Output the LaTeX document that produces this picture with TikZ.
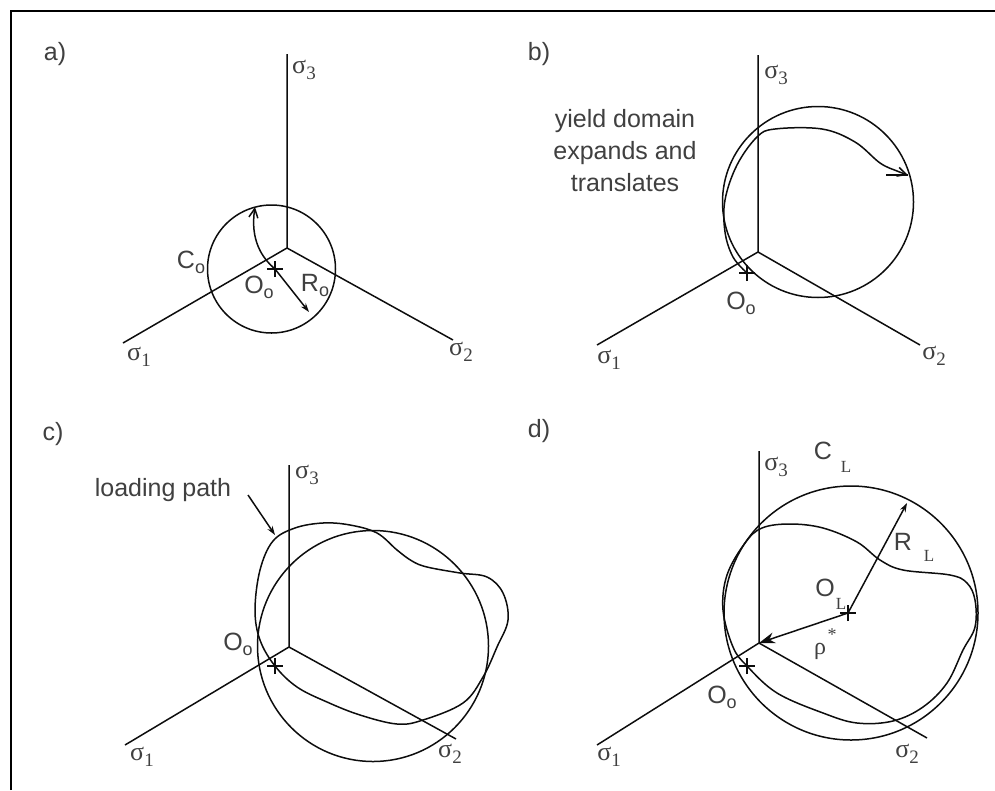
\documentclass[tikz,border=0pt]{standalone}
\usepackage{fontspec}
\setmainfont{Liberation Sans}
\newfontfamily\serifgr{Liberation Serif}
\usetikzlibrary{arrows.meta}
\definecolor{ink}{gray}{0.05}
\definecolor{lab}{gray}{0.25}
\tikzset{
  ln/.style={draw=ink,line width=1.5pt},
  txt/.style={text=lab,font=\fontsize{25}{30}\selectfont,inner sep=0pt},
  sig/.style={text=lab,font=\serifgr\fontsize{26}{28}\selectfont,inner sep=0pt},
  subL/.style={text=lab,font=\serifgr\fontsize{17}{18}\selectfont,inner sep=0pt},
  tip/.style={-{Stealth[length=9pt,width=6pt]}},
  barb/.style={-{Straight Barb[length=9pt,width=9pt]}},
}
\newcommand{\sgm}[1]{σ\raisebox{-6pt}{\fontsize{19}{20}\selectfont #1}}
\newcommand{\subo}{\raisebox{-5pt}{\fontsize{18}{18}\selectfont o}}
\newcommand{\crossat}[1]{\draw[ln] ([xshift=-8pt]#1) -- ([xshift=8pt]#1) ([yshift=-8pt]#1) -- ([yshift=8pt]#1);}
\begin{document}
\begin{tikzpicture}[x=1pt,y=-1pt]
\useasboundingbox (0,0) rectangle (995,790);
\coordinate (ftl) at (11,11); \coordinate (ftr) at (995,11);
\coordinate (fbl) at (11,790);
\draw[draw=black,line width=2pt] (fbl) -- (ftl) -- (ftr);
% panel a
\coordinate (a0) at (287,248); \coordinate (a3) at (287,54);
\coordinate (a1) at (123,343); \coordinate (a2) at (453,340);
\draw[ln] (a3) -- (a0) (a1) -- (a0) -- (a2);
\coordinate (ac) at (271.5,269);
\draw[ln] (ac) circle (64);
\coordinate (ax) at (275,269);
\crossat{ax}
\coordinate (ar) at (309,312);
\draw[ln,tip] (ax) -- (ar);
\coordinate (at) at (255,207);
\draw[ln,barb] (ax) .. controls (262,258) and (250,240) .. (at);
\node[txt] (la) at (55,54) {a)};
\node[sig] (as3) at (304,70) {\sgm{3}};
\node[sig] (as1) at (139,357) {\sgm{1}};
\node[sig] (as2) at (461,352) {\sgm{2}};
\node[txt] (aC) at (191,262) {C\subo};
\node[txt] (aO) at (259,287) {O\subo};
\node[txt] (aR) at (315,285) {R\subo};
% panel b
\coordinate (b0) at (758,252); \coordinate (b3) at (758,55);
\coordinate (b1) at (597,345); \coordinate (b2) at (920,345);
\draw[ln] (b3) -- (b0) (b1) -- (b0) -- (b2);
\coordinate (bc) at (818,202);
\draw[ln] (bc) circle (95.5);
\coordinate (bx) at (747,273);
\crossat{bx}
\coordinate (bt) at (908,175);
\coordinate (bta) at (886,175);
\draw[ln] (bta) -- (bt);
\draw[ln,barb] plot[smooth,tension=0.6] coordinates {(bx) (733,257) (725,232) (725,200) (737,165) (757,137) (775,129) (822,129) (855,142) (880,163) (897,171) (bt)};
\node[txt] (lb) at (539,54) {b)};
\node[sig] (bs3) at (776,75) {\sgm{3}};
\node[sig] (bs1) at (609,360) {\sgm{1}};
\node[sig] (bs2) at (934,356) {\sgm{2}};
\node[txt] (bO) at (741,303) {O\subo};
\node[txt,align=center,font=\fontsize{25}{32}\selectfont] (bt1) at (625,151) {yield domain\\expands and\\translates};
% panel c
\coordinate (c0) at (289,647); \coordinate (c3) at (289,465);
\coordinate (c1) at (125,745); \coordinate (c2) at (456,739);
\draw[ln] (c3) -- (c0) (c1) -- (c0) -- (c2);
\coordinate (cc) at (373,646);
\draw[ln] (cc) circle (115.5);
\coordinate (cx) at (275,666);
\crossat{cx}
\draw[ln] plot[smooth cycle,tension=0.6] coordinates {(cx) (260,640) (255,610) (260,570) (273,541) (295,528) (323,523) (350,525) (377,533) (397,550) (412,561) (427,567) (460,573) (487,577) (503,593) (508,620) (497,647) (483,677) (463,703) (423,720) (397,724) (360,715) (327,702) (297,687)};
\coordinate (cq) at (248,495); \coordinate (cp) at (275,535);
\draw[ln,tip] (cq) -- (cp);
\node[txt] (lc) at (53,434) {c)};
\node[sig] (cs3) at (307,475) {\sgm{3}};
\node[sig] (cs1) at (142,757) {\sgm{1}};
\node[sig] (cs2) at (450,754) {\sgm{2}};
\node[txt] (cO) at (238,644) {O\subo};
\node[txt] (cl) at (163,490) {loading path};
% panel d
\coordinate (d0) at (759,643); \coordinate (d3) at (759,451);
\coordinate (d1) at (597,745); \coordinate (d2) at (927,738);
\draw[ln] (d3) -- (d0) (d1) -- (d0) -- (d2);
\coordinate (dc) at (851,613);
\draw[ln] (dc) circle (127);
\coordinate (dx) at (747,666);
\crossat{dx}
\draw[ln] plot[smooth cycle,tension=0.6] coordinates {(dx) (733,647) (723,610) (727,575) (745,543) (762,528) (790,524) (823,528) (857,542) (880,560) (903,570) (950,575) (967,583) (975,600) (975,627) (963,650) (947,683) (923,707) (893,721) (857,723) (823,713) (777,693)};
\coordinate (dl) at (848,613); \coordinate (dR) at (907,503);
\crossat{dl}
\draw[ln,tip] (dl) -- (dR);
\draw[ln,-{Stealth[length=16pt,width=11pt]}] (dl) -- (d0);
\node[txt] (ld) at (539,431) {d)};
\node[sig] (ds3) at (776,467) {\sgm{3}};
\node[sig] (ds1) at (609,757) {\sgm{1}};
\node[sig] (ds2) at (907,754) {\sgm{2}};
\node[txt] (dO) at (722,697) {O\subo};
\node[txt] (dOL) at (825,588) {O};
\node[subL] (dOLs) at (841,604) {L};
\node[txt] (dC) at (823,451) {C};
\node[subL] (dCs) at (846,467) {L};
\node[txt] (dR1) at (903,542) {R};
\node[subL] (dRs) at (929,556) {L};
\node[sig,font=\serifgr\fontsize{24}{26}\selectfont] (drho) at (820,651) {ρ};
\node[sig,font=\serifgr\fontsize{18}{20}\selectfont] (dst) at (832,635) {*};
\end{tikzpicture}
\end{document}
